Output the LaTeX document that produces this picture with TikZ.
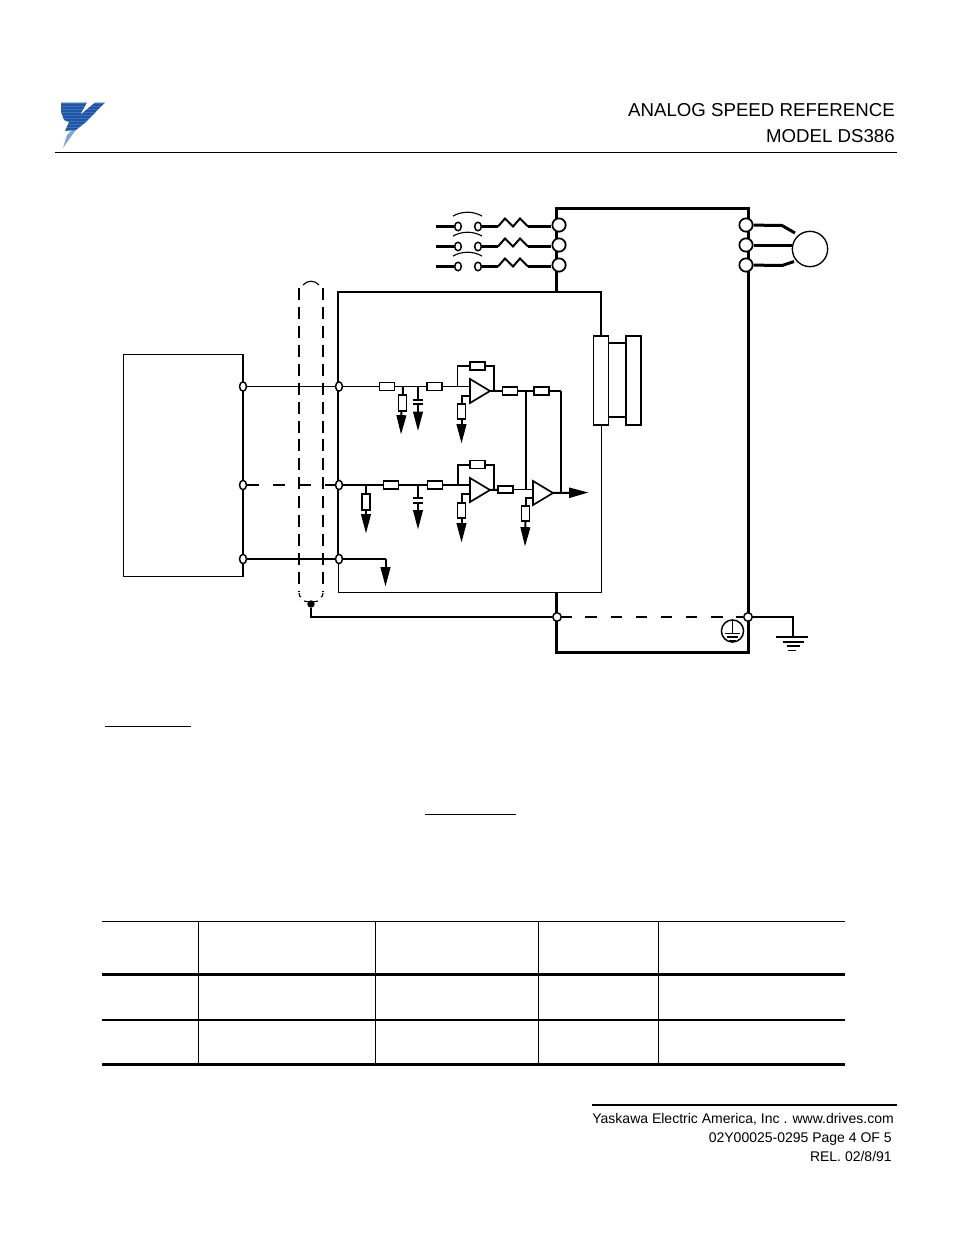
\documentclass[tikz,border=0pt]{standalone}
\usepackage{fontspec}
\setmainfont{Liberation Sans}
\usetikzlibrary{shapes.geometric,arrows.meta,backgrounds}
\definecolor{logoblue}{HTML}{1F55A8}
\definecolor{logolight}{HTML}{7FA6D8}
\tikzset{
  thinw/.style={line width=0.85pt},
  medw/.style={line width=1.5pt},
  heavyw/.style={line width=2.25pt},
  res/.style={draw,fill=white,rectangle,inner sep=0pt,line width=1.25pt,minimum width=11.2pt,minimum height=5.8pt},
  vres/.style={draw,fill=white,rectangle,inner sep=0pt,line width=1.25pt,minimum width=6pt,minimum height=11.6pt},
  amp/.style={draw,fill=white,line width=1.25pt,line join=miter},
  term/.style={draw,fill=white,ellipse,inner sep=0pt,line width=1.1pt,minimum width=5.2pt,minimum height=7pt},
  bigterm/.style={draw,fill=white,circle,inner sep=0pt,line width=1.3pt,minimum size=10pt},
  midterm/.style={draw,fill=white,circle,inner sep=0pt,line width=1.1pt,minimum size=6.4pt},
  contact/.style={draw,fill=white,ellipse,inner sep=0pt,line width=1.1pt,minimum width=5pt,minimum height=6.4pt},
  gnd/.style={-{Triangle[length=14.5pt,width=7.2pt]},medw},
  shielddash/.style={dash pattern=on 9pt off 5.2pt},
  lead/.style={dash pattern=on 9.2pt off 10.3pt},
  hdr/.style={anchor=base east,inner sep=0pt,font=\fontsize{14}{16}\selectfont},
  ftr/.style={anchor=base east,inner sep=0pt,font=\fontsize{10.5}{13}\selectfont}
}
\begin{document}
\begin{tikzpicture}[x=0.75pt,y=-0.75pt,line cap=butt]
\useasboundingbox (0,0) rectangle (954,1235);

% logo
\fill[logolight] (80,124) -- (63,148) -- (67,135) -- (72,130) -- cycle;
\begin{scope}
\clip (61,102.5) -- (87,102.5) -- (80,115) -- (95,102.5) -- (105,102.5) -- (86,122) -- (76,130) -- (65,131) -- (69,122) -- (64,120) -- (61,112) -- cycle;
\fill[logoblue] (60,100) rectangle (106,133);
\foreach \k in {103,106,...,133}{\draw[logolight,opacity=0.35,line width=0.3pt] (60,\k) -- (106,\k);}
\end{scope}

% header
\node[hdr] (h1) at (895,116) {ANALOG SPEED REFERENCE};
\node[hdr] (h2) at (895,142) {MODEL DS386};
\draw[thinw] (55,152.5) -- (897,152.5);

% outer terminals
\node[bigterm] (L1) at (559,225) {};
\node[bigterm] (L2) at (559,245) {};
\node[bigterm] (L3) at (559,265) {};
\node[bigterm] (R1) at (746,225) {};
\node[bigterm] (R2) at (746,245) {};
\node[bigterm] (R3) at (746,265) {};
\node[draw,circle,inner sep=0pt,minimum size=26.5pt,line width=1pt] (M) at (810,249) {};

% line contacts
\foreach \i/\yy/\aa in {1/226.5/216,2/246.5/236,3/266.5/256}{
  \node[contact] (ca\i) at (458,\yy) {};
  \node[contact] (cb\i) at (478,\yy) {};
  \coordinate (in\i) at (436,\yy);
  \coordinate (za\i) at (498,\yy);
  \coordinate (zb\i) at (528,\yy);
  \draw[heavyw] (in\i) -- (ca\i);
  \draw[heavyw] (cb\i) -- (za\i);
  \draw[medw] (za\i) -- ++(7,-8) -- ++(8,8) -- ++(7,-8) -- (zb\i);
  \draw[heavyw] (zb\i) -- (zb\i -| L\i.west);
  \draw[line width=0.85pt] (453,\aa) .. controls (462,\aa-5) and (473,\aa-5) .. (482,\aa);
}

\node[term] (a1) at (243,386.5) {};
\node[term] (a2) at (243,485) {};
\node[term] (a3) at (243,559) {};
\node[term] (b1) at (339,386.5) {};
\node[term] (b2) at (339,485) {};
\node[term] (b3) at (339,559) {};
\node[midterm] (g1) at (557,617) {};
\node[midterm] (g2) at (748,617) {};

\begin{scope}[on background layer]
% outer box
\draw[heavyw] (556.5,292) -- (556.5,208.5) -- (748.5,208.5) -- (748.5,652.5) -- (556.5,652.5) -- (556.5,592);
% interface box
\draw[medw] (601,336) -- (601,292) -- (338,292) -- (338,560);
\draw[thinw] (338.5,560) -- (338.5,592.5) -- (601.5,592.5) -- (601.5,425);
% controller box
\draw[thinw] (243,354.5) -- (123.5,354.5) -- (123.5,576.5) -- (243,576.5);
\draw[medw] (243,354) -- (243,577);
\end{scope}

% motor leads
\draw[heavyw] (R1) -- (782,225.5) -- (795,233);
\draw[heavyw] (R2) -- (M.west |- R2);
\draw[heavyw] (R3) -- (782,265.5) -- (794,261.5);

% plug-in connector
\node[draw,fill=white,rectangle,inner sep=0pt,line width=1.15pt,minimum width=11.4pt,minimum height=66.8pt] (bA) at (601,380.5) {};
\node[draw,fill=white,rectangle,inner sep=0pt,line width=1.15pt,minimum width=11pt,minimum height=66.8pt] (bB) at (633.5,380.5) {};
\draw[medw] (bA.east |- 0,343) -- (bB.west |- 0,343);
\draw[medw] (bA.east |- 0,417) -- (bB.west |- 0,417);

% field wires
\draw[thinw] (a1) -- (b1);
\draw[medw,lead] (a2) -- (b2);
\draw[medw] (a3) -- (b3);

% shield
\draw[medw,shielddash] (299,288) -- (299,591);
\draw[thinw,shielddash] (323,288) -- (323,591);
\draw[thinw] (303,285) .. controls (307,280) and (315,280) .. (319,285);
\draw[thinw] (299,593) .. controls (299,596) and (300,597) .. (301,597);
\draw[thinw] (323,593) .. controls (323,596) and (322,597) .. (321,597);
\draw[thinw] (304,601) .. controls (307,602) and (315,602) .. (318,601);
\node[fill=black,circle,inner sep=0pt,minimum size=5.6pt] (sh) at (311,604) {};

% ground bus
\draw[medw] (sh) -- (311,617) -- (g1);
\draw[medw,dash pattern=on 8.8pt off 10pt,dash phase=1.2pt] (g1) -- (g2);
\coordinate (g3) at (793,637);
\draw[medw] (g2) -- (793,617) -- (g3);
\draw[medw] (776,637) -- (808,637);
\draw[medw] (783,642) -- (804,642);
\draw[medw] (787,646) -- (800,646);
\draw[thinw] (788,650.5) -- (796,650.5);

% protective earth
\node[draw,fill=white,circle,inner sep=0pt,minimum size=16.6pt,line width=1.1pt] (pe) at (732.5,631) {};
\draw[thinw] (732.5,621) -- (732.5,633);
\draw[thinw] (725,633.5) -- (740,633.5);
\draw[medw] (727,637) -- (738,637);
\draw[medw] (729,640.5) -- (736,640.5);

% ---- upper channel
\node[res] (r1) at (387,386.5) {};
\node[res] (r2) at (434.5,386.5) {};
\node[res] (r3) at (477.5,366) {};
\node[vres] (r4) at (402.5,403) {};
\node[vres] (r5) at (461.5,411.5) {};
\node[res] (r6) at (510,391) {};
\node[res] (r7) at (541.5,391) {};
\coordinate (jf1) at (457.5,386.5);
\coordinate (ja) at (403,386.5);
\coordinate (jc) at (418,386.5);
\coordinate (jo) at (526,391);
\coordinate (jq) at (561,391);
\draw[amp] (470,379) -- (470,403) -- (490,391) -- cycle;
\coordinate (op1) at (490,391);
\coordinate (op1p) at (470,386.5);
\coordinate (op1n) at (470,395.5);
\draw[thinw] (b1) -- (r1) -- (r2) -- (op1p);
\draw[thinw] (jf1) -- (457.5,366) -- (r3);
\draw[medw] (r3) -- (494,366) -- (494,391);
\draw[medw] (op1) -- (r6);
\draw[medw] (r6) -- (r7);
\draw[medw] (r7) -- (jq);
\draw[medw] (ja) -- (r4);
\draw[gnd] (r4) ++(-1,8) -- (401,434.5);
\draw[gnd] (r5.south) -- (461.5,443.5);
\draw[medw] (op1n) -- (461.5,395.5) -- (r5);
\draw[thinw] (jc) -- (418,399);
\draw[medw] (413,399.5) -- (423,399.5);
\draw[medw] (413,403.5) -- (423,403.5);
\draw[gnd] (418,403.5) -- (418,431);

% ---- lower channel
\node[res] (s1) at (391,485) {};
\node[res] (s2) at (435,485) {};
\node[res] (s3) at (477.5,464.5) {};
\node[vres] (s4) at (366,502) {};
\node[vres] (s5) at (461.5,510.5) {};
\node[res,line width=1.6pt] (s6) at (505.5,489.5) {};
\node[vres] (s7) at (525.5,513.5) {};
\coordinate (kf) at (457.5,485);
\coordinate (ka) at (366,485);
\coordinate (kc) at (418,485);
\draw[amp] (470,478) -- (470,502) -- (490,490) -- cycle;
\draw[amp] (533,481) -- (533,505) -- (553,493) -- cycle;
\coordinate (op2) at (490,490);
\coordinate (op2p) at (470,485);
\coordinate (op2n) at (470,494);
\coordinate (op3) at (553,493);
\coordinate (op3p) at (533,489.5);
\coordinate (op3n) at (533,498);
\coordinate (out) at (588.5,492.5);
\draw[medw] (b2) -- (s1) -- (s2) -- (op2p);
\draw[medw] (kf) -- (457.5,464.5) -- (s3);
\draw[medw] (s3) -- (494,464.5) -- (494,490);
\draw[medw] (op2) -- (s6);
\draw[thinw] (s6) -- (op3p);
\draw[thinw] (ka) -- (s4);
\draw[gnd] (s4.south) -- (366,533.5);
\draw[medw] (op2n) -- (461.5,494) -- (s5);
\draw[gnd] (s5.south) -- (461.5,542.5);
\draw[medw] (op3n) -- (525.5,498) -- (s7);
\draw[gnd] (s7.south) -- (525,546.5);
\draw[medw] (kc) -- (418,498);
\draw[medw] (413,498) -- (423,498);
\draw[medw] (413,502.5) -- (423,502.5);
\draw[gnd] (418,502.5) -- (418,529.5);
\draw[medw] (jo) -- (526,489.5);
\draw[medw] (jq) -- (561,493);
\draw[-{Triangle[length=14.5pt,width=7.5pt]},medw] (op3) -- (out);

% common
\coordinate (cm) at (385.5,559);
\draw[medw] (b3) -- (cm);
\draw[gnd] (cm) -- (385.5,586.5);

% note underlines
\coordinate (n1a) at (105,726.5); \coordinate (n1b) at (191,726.5);
\coordinate (n2a) at (425,814.5); \coordinate (n2b) at (516,814.5);
\draw[thinw] (n1a) -- (n1b);
\draw[thinw] (n2a) -- (n2b);

% table
\draw[thinw] (102,921.5) -- (845,921.5);
\draw[heavyw] (102,974.5) -- (845,974.5);
\draw[line width=1.5pt] (102,1020) -- (845,1020);
\draw[heavyw] (102,1064.5) -- (845,1064.5);
\foreach \xx in {198.5,375.5,538.5,658.5}{\draw[thinw] (\xx,921.5) -- (\xx,1064);}

% footer
\draw[medw] (592,1104.5) -- (897,1104.5);
\node[ftr] (f1) at (894,1123) {Yaskawa Electric America, Inc . www.drives.com};
\node[ftr] (f2) at (892,1142) {02Y00025-0295 Page 4 OF 5};
\node[ftr] (f3) at (892,1161) {REL. 02/8/91};
\end{tikzpicture}
\end{document}
